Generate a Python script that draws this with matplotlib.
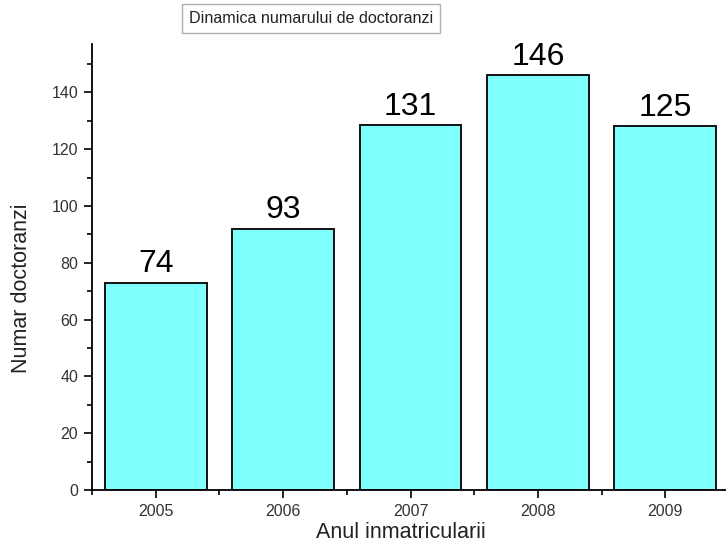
import matplotlib
matplotlib.use('Agg')
import matplotlib.pyplot as plt
from matplotlib.ticker import MultipleLocator, FixedLocator

# Data
years = [2005, 2006, 2007, 2008, 2009]
bar_heights = [73, 92, 128.5, 146, 128]
value_labels = ['74', '93', '131', '146', '125']

plt.rcParams['font.family'] = ['Liberation Sans', 'DejaVu Sans']

fig = plt.figure(figsize=(7.26, 5.54), dpi=100)
ax = fig.add_axes([92 / 726, 64 / 554, 637 / 726, 446 / 554])

ax.bar(years, bar_heights, width=0.8, color='#80ffff', edgecolor='#111111', linewidth=1.4)

# Value labels above bars
for x, h, lab in zip(years, bar_heights, value_labels):
    ax.annotate(lab, (x, h), xytext=(0, 7.5), textcoords='offset points',
                ha='center', va='baseline', fontsize=23, color='black')

ax.set_xlim(2004.5, 2009.5)
ax.set_ylim(0, 157)
ax.set_xticks(years)
ax.xaxis.set_minor_locator(FixedLocator([2004.5, 2005.5, 2006.5, 2007.5, 2008.5, 2009.5]))
ax.yaxis.set_major_locator(MultipleLocator(20))
ax.yaxis.set_minor_locator(MultipleLocator(10))

for side in ['top', 'right']:
    ax.spines[side].set_visible(False)
for side in ['left', 'bottom']:
    ax.spines[side].set_linewidth(1.3)

ax.tick_params(axis='both', which='major', direction='out', length=6, width=1.2,
               labelsize=11.5, labelcolor='#333333', pad=4)
ax.tick_params(axis='both', which='minor', direction='out', length=3.5, width=1.2)

ax.set_xlabel('Anul inmatricularii', fontsize=15.5, color='#222222', va='top')
ax.set_ylabel('Numar doctoranzi', fontsize=15.5, color='#222222')
ax.xaxis.set_label_coords(0.485, -0.072)
ax.yaxis.set_label_coords(-0.094, 0.453)

fig.text(311 / 726, 1 - 18.5 / 554, 'Dinamica numarului de doctoranzi', ha='center', va='center',
         fontsize=11.6, color='#222222',
         bbox=dict(boxstyle='square,pad=0.45', facecolor='white', edgecolor='#b0b0b0', linewidth=1))

fig.savefig('out.png', dpi=100)
